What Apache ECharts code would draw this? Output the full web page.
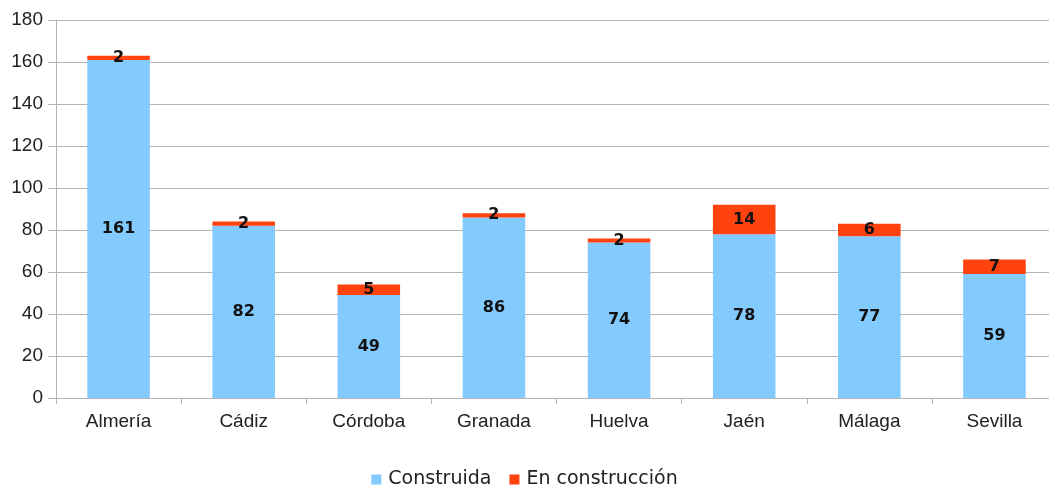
<!DOCTYPE html>
<html>
<head>
<meta charset="utf-8">
<script src="https://cdn.jsdelivr.net/npm/echarts@6/dist/echarts.min.js"></script>
<style>html,body{margin:0;padding:0;background:#fff}#c{width:1049px;height:492px}</style>
</head>
<body>
<div id="c"></div>
<script>
const categories = ['Almería','Cádiz','Córdoba','Granada','Huelva','Jaén','Málaga','Sevilla'];
const construida = [161,82,49,86,74,78,77,59];
const enConstruccion = [2,2,5,2,2,14,6,7];
const yTicks = {min:0, max:180, interval:20};

const chart = echarts.init(document.getElementById('c'), null, {renderer:'canvas'});
const labelStyle = {show:true, position:'inside', color:'#111', fontWeight:'bold', fontSize:16, fontFamily:'DejaVu Sans'};
chart.setOption({
  animation:false,
  backgroundColor:'#fff',
  grid:{left:56, top:20, width:1001, height:378, containLabel:false, outerBoundsMode:'none'},
  legend:{
    bottom:-2, left:'center', itemWidth:10, itemHeight:10, itemGap:18,
    icon:'rect',
    textStyle:{fontFamily:'DejaVu Sans', fontSize:19, color:'#222', padding:[0,0,0,2]},
    data:['Construida','En construcción']
  },
  xAxis:{
    type:'category', data:categories,
    axisLine:{lineStyle:{color:'#b3b3b3'}},
    axisTick:{show:true, length:6, lineStyle:{color:'#b3b3b3'}},
    axisLabel:{fontFamily:'Liberation Sans', fontSize:19, color:'#222', margin:14}
  },
  yAxis:{
    type:'value', min:yTicks.min, max:yTicks.max, interval:yTicks.interval,
    axisLine:{show:true, lineStyle:{color:'#b3b3b3'}},
    axisTick:{show:true, length:8, lineStyle:{color:'#b3b3b3'}},
    splitLine:{lineStyle:{color:'#b3b3b3'}},
    axisLabel:{fontFamily:'Liberation Sans', fontSize:19, color:'#222', margin:13}
  },
  series:[
    {name:'Construida', type:'bar', stack:'t', data:construida, barWidth:'50%',
      itemStyle:{color:'#83caff'}, label:labelStyle},
    {name:'En construcción', type:'bar', stack:'t', data:enConstruccion, barWidth:'50%',
      itemStyle:{color:'#ff420e'}, label:labelStyle}
  ]
});
</script>
</body>
</html>
